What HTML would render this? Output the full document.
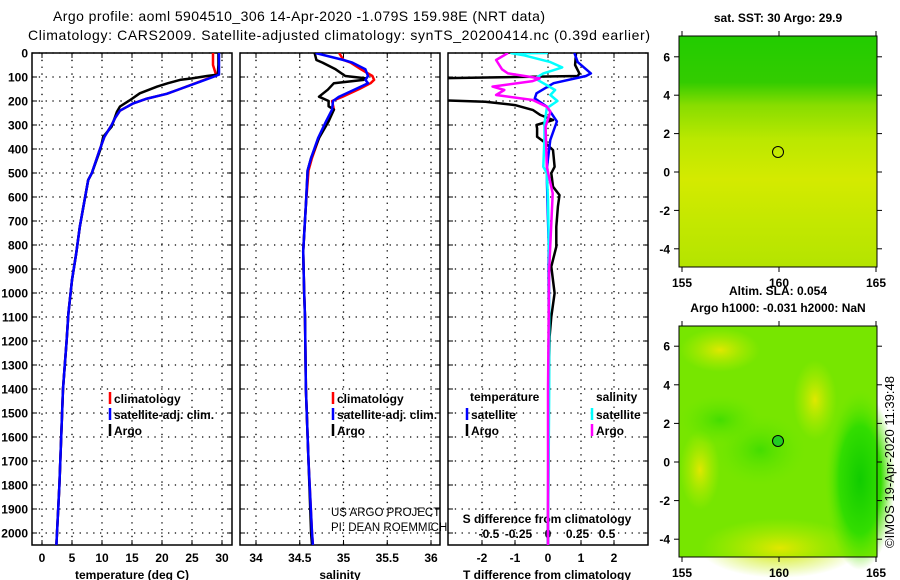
<!DOCTYPE html>
<html><head><meta charset="utf-8"><style>
html,body{margin:0;padding:0;background:#fff;}
svg{display:block;font-family:"Liberation Sans",sans-serif;}
.t{font-weight:bold;font-size:12px;fill:#000;}
.n{font-size:11.5px;fill:#000;}
</style></head><body>
<svg id="fig" width="900" height="580" viewBox="0 0 900 580">
<defs>
<linearGradient id="sstg" x1="0" y1="0" x2="0" y2="1">
<stop offset="0" stop-color="#22cc00"/><stop offset="0.2" stop-color="#33cc00"/><stop offset="0.3" stop-color="#88dd00"/><stop offset="0.45" stop-color="#bbe800"/><stop offset="0.62" stop-color="#d4ea00"/><stop offset="0.8" stop-color="#c4e800"/><stop offset="1" stop-color="#b4e400"/>
</linearGradient>
<radialGradient id="sla1" cx="0.5" cy="0.5" r="0.5"><stop offset="0" stop-color="#11cc00"/><stop offset="0.6" stop-color="#33dd00"/><stop offset="1" stop-color="#66e600" stop-opacity="0"/></radialGradient>
<radialGradient id="sla2" cx="0.5" cy="0.5" r="0.5"><stop offset="0" stop-color="#44dd00"/><stop offset="1" stop-color="#66e600" stop-opacity="0"/></radialGradient>
<radialGradient id="sla3" cx="0.5" cy="0.5" r="0.5"><stop offset="0" stop-color="#e0e800"/><stop offset="1" stop-color="#bbee00" stop-opacity="0"/></radialGradient>
<clipPath id="c1"><rect x="32" y="53" width="200" height="492"/></clipPath>
<clipPath id="c2"><rect x="240" y="53" width="200" height="492"/></clipPath>
<clipPath id="c3"><rect x="448" y="53" width="200" height="492"/></clipPath>
</defs>
<text x="299" y="21" text-anchor="middle" font-size="14" textLength="492">Argo profile: aoml 5904510_306 14-Apr-2020 -1.079S 159.98E (NRT data)</text>
<text x="339" y="40" text-anchor="middle" font-size="14" textLength="622">Climatology: CARS2009. Satellite-adjusted climatology: synTS_20200414.nc (0.39d earlier)</text>
<g id="plots"></g>
<g id="maps">
<text x="778" y="22" text-anchor="middle" class="t">sat. SST: 30 Argo: 29.9</text>
<rect x="679" y="36" width="198" height="231" fill="url(#sstg)"/>
<circle cx="778" cy="152" r="5.5" fill="none" stroke="#000"/>
<text x="778" y="295" text-anchor="middle" class="t">Altim. SLA: 0.054</text>
<text x="778" y="312" text-anchor="middle" class="t">Argo h1000: -0.031 h2000: NaN</text>
<rect x="679" y="326" width="198" height="231" fill="#77e600"/>
<g>
<ellipse cx="720" cy="350" rx="40" ry="22" fill="url(#sla3)"/>
<ellipse cx="815" cy="400" rx="22" ry="40" fill="url(#sla3)"/>
<ellipse cx="700" cy="470" rx="20" ry="40" fill="url(#sla3)"/>
<ellipse cx="780" cy="548" rx="80" ry="30" fill="url(#sla3)"/>
<ellipse cx="760" cy="450" rx="45" ry="35" fill="url(#sla2)"/>
<ellipse cx="860" cy="480" rx="35" ry="90" fill="url(#sla1)"/>
<ellipse cx="720" cy="420" rx="40" ry="25" fill="url(#sla2)"/>
</g>
<circle cx="778" cy="441" r="5.5" fill="#22cc22" stroke="#000"/>
<text transform="translate(894,462) rotate(-90)" text-anchor="middle" font-size="13">©IMOS 19-Apr-2020 11:39:48</text>
</g>
</svg>
<script>
// ---- data ----
var depthTicks = [0,100,200,300,400,500,600,700,800,900,1000,1100,1200,1300,1400,1500,1600,1700,1800,1900,2000];
var tempTicks = [0,5,10,15,20,25,30];
var salTicks = [34,34.5,35,35.5,36];
var salTickLabels = ["34","34.5","35","35.5","36"];
var tdTicks = [-2,-1,0,1,2];
var sdTicks = [-0.5,-0.25,0,0.25,0.5];
var sdTickLabels = ["-0.5","-0.25","0","0.25","0.5"];
var latTicks = [6,4,2,0,-2,-4];
var lonTicks = [155,160,165];

var argoDepth = [0,50,90,96,106,112,126,140,168,196,223,244,307,349,404,501,529,640,724,835,946,1085,1200,1400,1600,1800,2000,2050];
var argoTemp  = [29.4,29.4,29.3,27.5,25,23,21,19.2,16.3,14.7,13,12.5,11.6,10.2,9.7,8.3,7.7,6.9,6.3,5.7,5.0,4.4,4.1,3.5,3.2,2.9,2.5,2.4];
var climDepth = [0,50,90,100,120,150,170,190,210,240,270,300,349,404,501,529,640,724,835,946,1085,1200,1400,1600,1800,2000,2050];
var climTemp  = [28.5,28.5,29.0,28.3,26.2,23,20.8,17.5,15.2,13,12.2,11.6,10.4,9.6,8.3,7.7,6.9,6.3,5.7,5.0,4.4,4.1,3.5,3.2,2.9,2.5,2.4];
var satTemp   = [29.5,29.5,29.5,28.5,26.3,23,20.8,17.5,15.2,13,12.2,11.6,10.4,9.6,8.3,7.7,6.9,6.3,5.7,5.0,4.4,4.1,3.5,3.2,2.9,2.5,2.4];

var sArgoDepth = [0,29,40,68,96,105,112,126,153,182,200,222,236,285,354,437,490,632,826,990,1100,1400,1700,2000,2050];
var sArgo      = [34.67,34.69,34.76,34.91,35.02,35.25,35.23,34.89,34.82,34.72,34.83,34.83,34.89,34.83,34.72,34.63,34.59,34.57,34.54,34.55,34.56,34.57,34.6,34.63,34.64];
var sClimDepth = [0,29,40,68,96,112,126,150,182,200,236,285,354,437,490,632,826,990,1100,1400,1700,2000,2050];
var sClim      = [34.95,35.0,35.08,35.2,35.33,35.35,35.31,35.18,34.99,34.87,34.89,34.81,34.72,34.64,34.6,34.57,34.54,34.55,34.56,34.57,34.6,34.64,34.65];
var sSat       = [34.68,35.0,35.1,35.25,35.28,35.25,35.28,35.14,34.95,34.88,34.87,34.8,34.71,34.63,34.59,34.57,34.54,34.55,34.56,34.57,34.6,34.64,34.65];

var tdArgoDepth = [0,50,85,96,106,196,203,217,238,258,279,300,314,349,369,404,474,501,557,592,640,724,807,890,1001,1099,1182,1400,1800,2050];
var tdArgo      = [0.85,0.82,0.95,0.9,-3.5,-3.5,-1.9,-1.0,-0.45,-0.24,0.15,-0.35,-0.33,-0.33,-0.13,0.15,0.2,0.1,0.15,0.35,0.3,0.25,0.25,0.1,0.2,0.1,0.05,0.02,0.01,0];
var tdSatDepth  = [0,38,85,96,126,168,189,224,285,362,474,543,800,1200,1600,2050];
var tdSat       = [0.8,0.9,1.3,1.15,0.17,-0.35,-0.4,-0.03,0.27,0.07,-0.03,-0.03,0.02,0.02,0.01,0];
var sdSatDepth  = [0,1,10,38,60,85,106,126,154,175,200,230,293,349,474,501,611,900,1400,2050];
var sdSat       = [0.0,-0.31,-0.2,0.02,0.12,-0.04,-0.11,-0.04,0.06,0.02,0.08,-0.01,-0.03,-0.03,-0.04,-0.01,0,0.01,0.01,0];
var sdArgoDepth = [0,29,68,85,106,117,140,154,175,196,224,244,307,474,585,900,1400,2050];
var sdArgo      = [-0.34,-0.44,-0.39,-0.34,-0.07,-0.13,-0.47,-0.37,-0.44,-0.13,-0.01,0.02,-0.02,-0.01,0.04,0.01,0,0];

// ---- axes ----
var Y0=53, YS=0.24;
function yD(d){return Y0+d*YS;}
function xT(t){return 42+t*6;}
function xS(s){return 256+(s-34)*87.5;}
function xTD(v){return 548+v*33;}
function xSD(v){return 548+v*118;}
function yLat1(l){return 172-l*19.2;}
function yLat2(l){return 462-l*19.3;}
function xLon(l){return 682+(l-155)*19.4;}

var NS="http://www.w3.org/2000/svg";
var plots=document.getElementById('plots');
var maps=document.getElementById('maps');
function mk(tag,attrs,parent){var e=document.createElementNS(NS,tag);for(var k in attrs)e.setAttribute(k,attrs[k]);(parent||plots).appendChild(e);return e;}
function txt(x,y,s,anchor,cls,parent){var e=mk('text',{x:x,y:y,'text-anchor':anchor||'middle','class':cls||'t'},parent);e.textContent=s;return e;}

var panels=[{x:32,clip:'c1',name:'temperature-panel'},{x:240,clip:'c2',name:'salinity-panel'},{x:448,clip:'c3',name:'difference-panel'}];
var vgrid=[tempTicks.map(xT),salTicks.map(xS),tdTicks.map(xTD)];
panels.forEach(function(p,i){
  var g=mk('g',{});
  
  
  var L=p.x,R=p.x+200,B=545;
  depthTicks.forEach(function(d){
    var y=yD(d);
    var l=mk('line',{x1:L,x2:R,y1:y,y2:y,stroke:'#000','stroke-width':1.3,'stroke-dasharray':'1.3 5.5'},g);
    
    
    mk('line',{x1:L,x2:L+5,y1:y,y2:y,stroke:'#000'},g);
    mk('line',{x1:R-5,x2:R,y1:y,y2:y,stroke:'#000'},g);
  });
  vgrid[i].forEach(function(x){
    var l=mk('line',{x1:x,x2:x,y1:Y0,y2:B,stroke:'#000','stroke-width':1.3,'stroke-dasharray':'1.3 5.5'},g);
    
    
    mk('line',{x1:x,x2:x,y1:Y0,y2:Y0+5,stroke:'#000'},g);
    mk('line',{x1:x,x2:x,y1:B-5,y2:B,stroke:'#000'},g);
  });
  mk('rect',{x:L,y:Y0,width:200,height:B-Y0,fill:'none',stroke:'#000','stroke-width':1.5},g);
});
depthTicks.forEach(function(d){
  var t=txt(28,yD(d)+4.5,String(d),'end');
  
  
});
tempTicks.forEach(function(v){var t=txt(xT(v),562,String(v));
  
  });
salTicks.forEach(function(v,i){var t=txt(xS(v),562,salTickLabels[i]);
  
  });
tdTicks.forEach(function(v){var t=txt(xTD(v),562,String(v));
  
  });
sdTicks.forEach(function(v,i){var t=txt(xSD(v),538,sdTickLabels[i]);
  
  });
var a1=txt(132,579,'temperature (deg C)');


var a2=txt(340,579,'salinity');


var a3=txt(547,579,'T difference from climatology');


var a4=txt(547,523,'S difference from climatology');


var c1=txt(331,516,'US ARGO PROJECT','start','n');


var c2=txt(331,531,'PI: DEAN ROEMMICH','start','n');



function series(depths,vals,fx,color,clip,name,w){
  var pts=depths.map(function(d,i){return fx(vals[i]).toFixed(1)+','+yD(d).toFixed(1);}).join(' ');
  var p=mk('polyline',{points:pts,fill:'none',stroke:color,'stroke-width':w||2.5,'clip-path':'url(#'+clip+')','stroke-linejoin':'round'});
  
  
}
series(climDepth,climTemp,xT,'#ff0000','c1','temperature-climatology-line');
series(argoDepth,argoTemp,xT,'#000000','c1','temperature-argo-line');
series(climDepth,satTemp,xT,'#0000ff','c1','temperature-satellite-line');
series(sClimDepth,sClim,xS,'#ff0000','c2','salinity-climatology-line');
series(sArgoDepth,sArgo,xS,'#000000','c2','salinity-argo-line');
series(sClimDepth,sSat,xS,'#0000ff','c2','salinity-satellite-line');
series(tdArgoDepth,tdArgo,xTD,'#000000','c3','t-diff-argo-line');
series(tdSatDepth,tdSat,xTD,'#0000ff','c3','t-diff-satellite-line');
series(sdSatDepth,sdSat,xSD,'#00ffff','c3','s-diff-satellite-line');
series(sdArgoDepth,sdArgo,xSD,'#ff00ff','c3','s-diff-argo-line');

function legend(x,y,color,label){
  var g=mk('g',{});
  
  
  mk('line',{x1:x,x2:x,y1:y-12,y2:y,stroke:color,'stroke-width':2.5},g);
  txt(x+4,y-1,label,'start','t',g);
}
legend(110,404,'#ff0000','climatology');
legend(110,420,'#0000ff','satellite-adj. clim.');
legend(110,436,'#000000','Argo');
legend(333,404,'#ff0000','climatology');
legend(333,420,'#0000ff','satellite-adj. clim.');
legend(333,436,'#000000','Argo');
var lt=txt(470,401,'temperature','start');


var ls=txt(596,401,'salinity','start');


legend(467,420,'#0000ff','satellite');
legend(467,436,'#000000','Argo');
legend(592,420,'#00ffff','satellite');
legend(592,436,'#ff00ff','Argo');

// map axes
[[36,267,yLat1,'sst'],[326,557,yLat2,'sla']].forEach(function(m){
  var T=m[0],B=m[1],fy=m[2];
  mk('rect',{x:679,y:T,width:198,height:B-T,fill:'none',stroke:'#000','stroke-width':1},maps);
  latTicks.forEach(function(l){
    var y=fy(l);
    mk('line',{x1:674,x2:679,y1:y,y2:y,stroke:'#000'},maps);
    mk('line',{x1:877,x2:882,y1:y,y2:y,stroke:'#000'},maps);
    var t=txt(670,y+4.5,String(l),'end','t',maps);
    
    
  });
  lonTicks.forEach(function(l){
    var x=xLon(l);
    mk('line',{x1:x,x2:x,y1:T-5,y2:T,stroke:'#000'},maps);
    mk('line',{x1:x,x2:x,y1:B,y2:B+5,stroke:'#000'},maps);
    var t=txt(x,B+20,String(l),'middle','t',maps);
    
    
  });
});
</script>
</body></html>
